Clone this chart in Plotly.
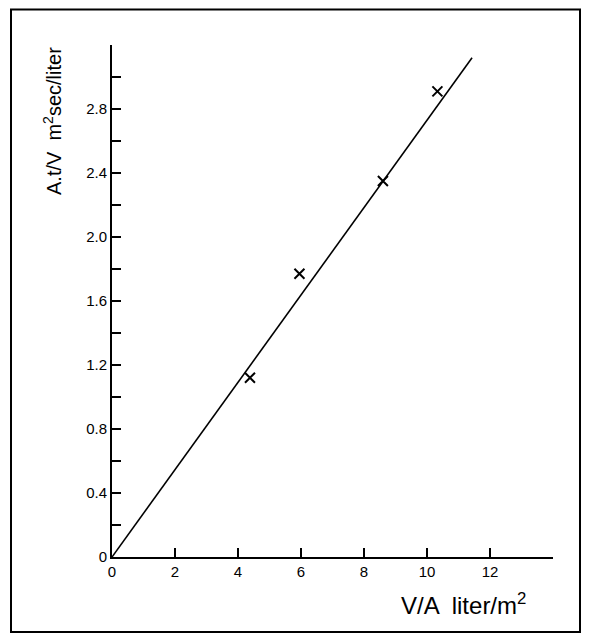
import plotly.graph_objects as go

# Data
va_points = [4.38, 5.95, 8.6, 10.33]          # V/A, liter/m^2
atv_points = [1.12, 1.77, 2.35, 2.91]         # A.t/V, m^2 sec/liter
fit_x = [0.0, 11.43]
fit_y = [0.0, 3.12]

x_tick_vals = [0, 2, 4, 6, 8, 10, 12]
x_tick_text = ["0", "2", "4", "6", "8", "10", "12"]
y_tick_vals = [0, 0.2, 0.4, 0.6, 0.8, 1.0, 1.2, 1.4, 1.6, 1.8, 2.0, 2.2, 2.4, 2.6, 2.8, 3.0]
y_tick_text = ["0", "", "0.4", "", "0.8", "", "1.2", "", "1.6", "", "2.0", "", "2.4", "", "2.8", ""]

OFF = 8  # page body margin
W, H = 589 - 2 * OFF, 637 - OFF
L, T = 112 - OFF, 45 - OFF
PW, PH = 441, 512
R = W - L - PW
B = H - T - PH

def px(xp):
    return (xp - OFF - L) / PW

def py(yp):
    return (T + PH - (yp - OFF)) / PH

FONT = "Liberation Sans, Arial, Helvetica, sans-serif"

fig = go.Figure()
fig.add_trace(go.Scatter(x=fit_x, y=fit_y, mode="lines",
                         line=dict(color="black", width=1.6), showlegend=False))
fig.add_trace(go.Scatter(x=va_points, y=atv_points, mode="markers",
                         marker=dict(symbol="x-thin", size=10,
                                     line=dict(color="black", width=2)),
                         showlegend=False))

fig.update_layout(
    width=W, height=H,
    margin=dict(l=L, r=R, t=T, b=B),
    paper_bgcolor="white", plot_bgcolor="white",
    font=dict(family=FONT, color="black", size=15),
    xaxis=dict(range=[0, 14], showgrid=False, zeroline=False,
               showline=True, linecolor="black", linewidth=2,
               ticks="inside", ticklen=9, tickwidth=1.5, tickcolor="black",
               tickvals=x_tick_vals, ticktext=x_tick_text,
               tickfont=dict(size=15)),
    yaxis=dict(range=[0, 3.2], showgrid=False, zeroline=False,
               showline=True, linecolor="black", linewidth=2,
               ticks="inside", ticklen=9, tickwidth=1.5, tickcolor="black",
               tickvals=y_tick_vals, ticktext=y_tick_text,
               tickfont=dict(size=15)),
    shapes=[dict(type="rect", xref="paper", yref="paper",
                 x0=px(11), x1=px(580), y0=py(632), y1=py(9.5),
                 line=dict(color="black", width=2))],
    annotations=[
        dict(text="V/A  liter/m<sup>2</sup>", xref="paper", yref="paper",
             x=px(528), y=py(604), xanchor="right", yanchor="middle",
             showarrow=False, font=dict(size=24)),
        dict(text="A.t/V  m<sup>2</sup>sec/liter", xref="paper", yref="paper",
             x=px(52), y=py(121), xanchor="center", yanchor="middle",
             textangle=-90, showarrow=False, font=dict(size=20)),
    ],
)

fig.write_html("out.html")
